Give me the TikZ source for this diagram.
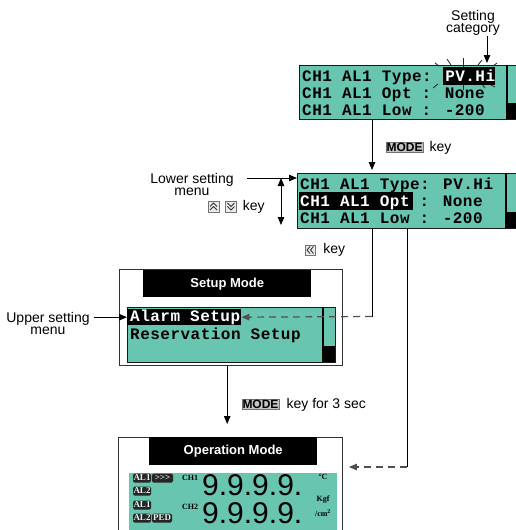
\documentclass[tikz,border=0pt]{standalone}
\usepackage{fontspec}
\setmainfont{Liberation Sans}
\newfontfamily\lcdfont{Liberation Mono}[LetterSpace=3]
\newfontfamily\tagfont{Liberation Serif}
\usetikzlibrary{arrows.meta,positioning,calc}
\definecolor{lcdgreen}{HTML}{68C6B0}
\definecolor{lcdline}{HTML}{1A1A1A}
\definecolor{dashgray}{HTML}{505050}
\definecolor{keygray}{HTML}{C4C4C4}

\begin{document}
\begin{tikzpicture}[x=1pt,y=-1pt,
    lcd/.style={draw=lcdline,line width=1.4pt,fill=lcdgreen,inner sep=0,anchor=north west},
    row/.style={anchor=base west,inner sep=0,font=\lcdfont\bfseries\fontsize{16}{16}\selectfont},
    hl/.style={fill=black,inner sep=0,anchor=north west},
    modebox/.style={draw=black!80,line width=0.9pt,inner sep=0,anchor=north west},
    titlebar/.style={fill=black,text=white,font=\bfseries\fontsize{13}{13}\selectfont,inner sep=0,anchor=north west},
    lbl/.style={inner sep=0,font=\fontsize{14}{12.5}\selectfont,align=center},
    keybox/.style={draw=black!55,fill=keygray,inner sep=0.7pt,font=\bfseries\fontsize{12}{12}\selectfont},
    keyicon/.style={draw=black!55,fill=black!8,minimum size=10pt,inner sep=0},
    chev/.style={line width=0.9pt,black!80},
    tag/.style={fill=black!85,rounded corners=1.5pt,text=lcdgreen!20!white,inner sep=0,minimum height=9pt,minimum width=18pt,font=\tagfont\bfseries\fontsize{9}{9}\selectfont},
    small/.style={inner sep=0,font=\tagfont\bfseries\fontsize{8}{8}\selectfont},
    arr/.style={-{Triangle[length=8pt,width=6.5pt]},line width=1pt},
    dasharr/.style={-{Triangle[length=8pt,width=6.5pt]},line width=1.2pt,dashgray,dash pattern=on 7pt off 5pt},
    ray/.style={line width=0.8pt,black!85}
]
\useasboundingbox (0,0) rectangle (516,530);
\clip (0,0) rectangle (516,530);

% top display
\node[lcd,minimum width=225pt,minimum height=54pt] (lcdA) at (299,65) {};
\draw[line width=1.2pt] (507,65) -- (507,119);
\fill (507,103) rectangle (518,119);
\foreach \a/\b in {{(435,63)}/{(439,66)},{(447,59)}/{(451,65)},{(463,58)}/{(463,67)},{(482,60)}/{(478,65)},{(497,63)}/{(493,66)},
    {(433,88)}/{(438,84)},{(463,84)}/{(463,90)},{(481,83)}/{(485,88)},{(489,84)}/{(495,87)}}
  \draw[ray] \a -- \b;
\node[hl,minimum width=52pt,minimum height=18pt] (pvHL) at (443,67) {};
\node[row] (a1) at (302,81) {CH1 AL1 Type: {\color{white}PV.Hi}};
\node[row] (a2) at (302,98) {CH1 AL1 Opt : None};
\node[row] (a3) at (302,115) {CH1 AL1 Low : -200};
\node[lbl,anchor=north] (cat) at (473,10) {Setting\\category};
\coordinate (catTip) at (487,63);
\draw[arr] (cat.south -| catTip) -- (catTip);

% middle display
\node[lcd,minimum width=225pt,minimum height=55pt] (lcdB) at (297,173) {};
\draw[line width=1.2pt] (506,173) -- (506,228);
\fill (506,212) rectangle (518,228);
\node[hl,minimum width=114pt,minimum height=18pt] (optHL) at (299,192) {};
\node[row] (b1) at (300,189) {CH1 AL1 Type: PV.Hi};
\node[row] (b2) at (300,206) {{\color{white}CH1 AL1 Opt} : None};
\node[row] (b3) at (300,223) {CH1 AL1 Low : -200};

\coordinate (modeX) at (372,170);
\draw[arr] (lcdA.south -| modeX) -- (modeX);
\node[keybox] (mk1) at (404.5,147.5) {MODE};
\node[lbl,right=6pt of mk1] (k1) {key};

\node[lbl,anchor=north] (lower) at (192,173) {Lower setting\\menu};
\coordinate (lowY) at ($(lcdB.north west)+(0,5)$);
\draw[arr,shorten <=13pt] (lower.east |- lowY) -- (lowY);
\coordinate (dblT) at (281,178);
\coordinate (dblB) at (281,225);
\draw[{Triangle[length=8pt,width=6.5pt]}-{Triangle[length=8pt,width=6.5pt]},line width=1pt] (dblT) -- (dblB);
\node[keyicon,minimum size=11pt] (upk) at (213.5,206.5) {};
\node[keyicon,minimum size=11pt,right=6pt of upk] (dnk) {};
\node[lbl,right=6pt of dnk] (k3) {key};
\begin{scope}[shift={(upk.center)}]
  \draw[chev] (-3.5,0) -- (0,-3.5) -- (3.5,0);
  \draw[chev] (-3.5,3.5) -- (0,0) -- (3.5,3.5);
\end{scope}
\begin{scope}[shift={(dnk.center)}]
  \draw[chev] (-3.5,-3.5) -- (0,0) -- (3.5,-3.5);
  \draw[chev] (-3.5,0) -- (0,3.5) -- (3.5,0);
\end{scope}
\node[keyicon] (lfk) at (310,250) {};
\node[lbl,right=8pt of lfk] (k4) {key};
\begin{scope}[shift={(lfk.center)}]
  \draw[chev] (0,-3.5) -- (-3,0) -- (0,3.5);
  \draw[chev] (3.5,-3.5) -- (0.5,0) -- (3.5,3.5);
\end{scope}

% setup mode
\node[modebox,minimum width=223pt,minimum height=96pt] (setup) at (119,269) {};
\node[titlebar,minimum width=168pt,minimum height=27pt] (setupT) at (143,270) {Setup Mode};
\node[lcd,minimum width=208pt,minimum height=55pt] (setupL) at (127,307) {};
\draw[line width=1.2pt] (323,307) -- (323,362);
\fill (323,346) rectangle (335,362);
\node[hl,minimum width=114pt,minimum height=16pt] (alarmHL) at (127,309) {};
\node[row] (s1) at (130,321) {\color{white}Alarm Setup};
\node[row] (s2) at (130,339) {Reservation Setup};
\node[lbl,anchor=north] (upper) at (48,312) {Upper setting\\menu};
\draw[arr,shorten <=4pt] (upper.east |- alarmHL.west) -- (alarmHL.west);

\coordinate (turnA) at (372,316.5);
\draw[line width=1pt] (lcdB.south -| turnA) -- (turnA);
\draw[dasharr] (turnA) -- (alarmHL.east);

% operation mode
\node[modebox,minimum width=224pt,minimum height=110pt] (oper) at (118,437) {};
\node[titlebar,minimum width=168pt,minimum height=28pt] (operT) at (149,437) {Operation Mode};
\node[lcd,draw=none,minimum width=208pt,minimum height=70pt] (operL) at (128,472) {};
\draw[arr,shorten >=13pt] (setup.south -| setupT) -- (oper.north -| setupT);
\node[keybox] (mk2) at (260.5,404.5) {MODE};
\node[lbl,right=7pt of mk2] (k2) {key for 3 sec};

\coordinate (turnB) at (407,467);
\draw[line width=1pt] (lcdB.south -| turnB) -- (turnB);
\draw[dasharr,shorten >=6pt] (turnB) -- (oper.east |- turnB);

\node[tag] (t1) at (142,478) {AL1};
\node[tag,minimum width=21pt] (t2) at (162.5,478) {>>>};
\node[tag] (t3) at (142,491) {AL2};
\node[tag] (t4) at (142,505) {AL1};
\node[tag] (t5) at (142,518) {AL2};
\node[tag,minimum width=20pt] (t6) at (162,518) {PED};
\node[small] (ch1) at (190,478) {CH1};
\node[small] (ch2) at (190,507) {CH2};
\node[anchor=base west,inner sep=0,font=\fontsize{30}{30}\selectfont] (d1) at (202,495) {9.9.9.9.};
\node[anchor=base west,inner sep=0,font=\fontsize{30}{30}\selectfont] (d2) at (202,523) {9.9.9.9.};
\node[small] (unitC) at (323,477) {\textdegree C};
\node[small] (unitK) at (323,500) {Kgf};
\node[small] (unitP) at (323,513) {/cm\textsuperscript{2}};
\end{tikzpicture}
\end{document}
